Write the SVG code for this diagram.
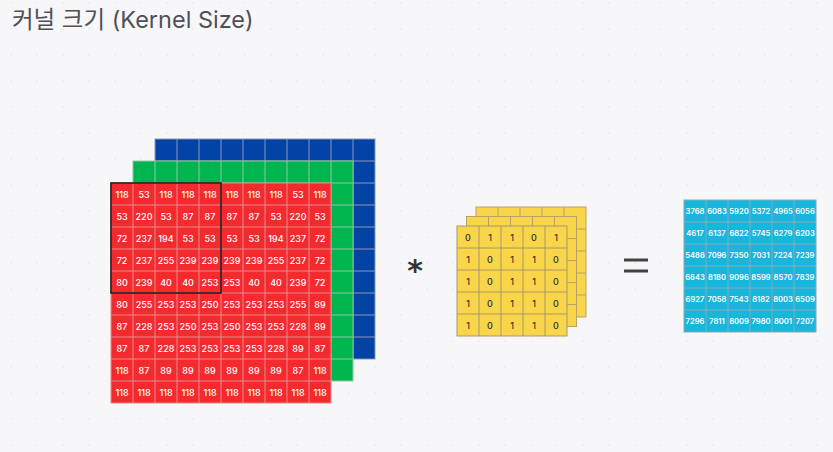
<svg xmlns="http://www.w3.org/2000/svg" width="833" height="452" viewBox="0 0 833 452">
<style>
.rt{font-family:Inter,"Liberation Sans",sans-serif;font-size:9px;fill:#fff;text-anchor:middle;font-weight:500}
.kt{font-family:Inter,"Liberation Sans",sans-serif;font-size:9px;fill:#333;text-anchor:middle;font-weight:500}
.ot{font-family:Inter,"Liberation Sans",sans-serif;font-size:7.6px;fill:#fff;text-anchor:middle;font-weight:600}
.gl{fill:none;stroke-width:1}
</style>
<defs>
<pattern id="dots" x="0" y="0" width="26" height="26" patternUnits="userSpaceOnUse">
<circle cx="11" cy="3" r="1" fill="#ebebef"/>
</pattern>
<path id="g10" d="M22 0v220m22 -220v220m22 -220v220m22 -220v220m22 -220v220m22 -220v220m22 -220v220m22 -220v220m22 -220v220M0 22h220m-220 22h220m-220 22h220m-220 22h220m-220 22h220m-220 22h220m-220 22h220m-220 22h220m-220 22h220"/>
<path id="g5" d="M22 0v110m22 -110v110m22 -110v110m22 -110v110M0 22h110m-110 22h110m-110 22h110m-110 22h110"/>
<path id="g6" d="M22 0v132m22 -132v132m22 -132v132m22 -132v132m22 -132v132M0 22h132m-132 22h132m-132 22h132m-132 22h132m-132 22h132"/>
</defs>
<rect width="833" height="452" fill="#f7f7f9"/>
<rect width="833" height="452" fill="url(#dots)"/>

<g id="title">
<text x="12" y="28" font-family="Inter,'Noto Sans CJK KR',sans-serif" font-size="23.5" font-weight="400" fill="#505055">커널 크기 (Kernel Size)</text>
</g>

<g id="blue-channel" transform="translate(155,139)">
<rect width="220" height="220" fill="#0443a6" stroke="#8a97b3"/>
<use href="#g10" class="gl" stroke="#8a97b3"/>
</g>
<g id="green-channel" transform="translate(133,161)">
<rect width="220" height="220" fill="#00b450" stroke="#8fc9a2"/>
<use href="#g10" class="gl" stroke="#8fc9a2"/>
</g>
<g id="red-channel">
<rect x="111" y="183" width="220" height="220" fill="#f52a2f" stroke="#e38a8c"/>
<use href="#g10" x="111" y="183" class="gl" stroke="#e38a8c"/>
<g class="rt">
<text x="122" y="197.5">118</text><text x="144" y="197.5">53</text><text x="166" y="197.5">118</text><text x="188" y="197.5">118</text><text x="210" y="197.5">118</text><text x="232" y="197.5">118</text><text x="254" y="197.5">118</text><text x="276" y="197.5">118</text><text x="298" y="197.5">53</text><text x="320" y="197.5">118</text>
<text x="122" y="219.5">53</text><text x="144" y="219.5">220</text><text x="166" y="219.5">53</text><text x="188" y="219.5">87</text><text x="210" y="219.5">87</text><text x="232" y="219.5">87</text><text x="254" y="219.5">87</text><text x="276" y="219.5">53</text><text x="298" y="219.5">220</text><text x="320" y="219.5">53</text>
<text x="122" y="241.5">72</text><text x="144" y="241.5">237</text><text x="166" y="241.5">194</text><text x="188" y="241.5">53</text><text x="210" y="241.5">53</text><text x="232" y="241.5">53</text><text x="254" y="241.5">53</text><text x="276" y="241.5">194</text><text x="298" y="241.5">237</text><text x="320" y="241.5">72</text>
<text x="122" y="263.5">72</text><text x="144" y="263.5">237</text><text x="166" y="263.5">255</text><text x="188" y="263.5">239</text><text x="210" y="263.5">239</text><text x="232" y="263.5">239</text><text x="254" y="263.5">239</text><text x="276" y="263.5">255</text><text x="298" y="263.5">237</text><text x="320" y="263.5">72</text>
<text x="122" y="285.5">80</text><text x="144" y="285.5">239</text><text x="166" y="285.5">40</text><text x="188" y="285.5">40</text><text x="210" y="285.5">253</text><text x="232" y="285.5">253</text><text x="254" y="285.5">40</text><text x="276" y="285.5">40</text><text x="298" y="285.5">239</text><text x="320" y="285.5">72</text>
<text x="122" y="307.5">80</text><text x="144" y="307.5">255</text><text x="166" y="307.5">253</text><text x="188" y="307.5">253</text><text x="210" y="307.5">250</text><text x="232" y="307.5">253</text><text x="254" y="307.5">253</text><text x="276" y="307.5">253</text><text x="298" y="307.5">255</text><text x="320" y="307.5">89</text>
<text x="122" y="329.5">87</text><text x="144" y="329.5">228</text><text x="166" y="329.5">253</text><text x="188" y="329.5">250</text><text x="210" y="329.5">253</text><text x="232" y="329.5">250</text><text x="254" y="329.5">253</text><text x="276" y="329.5">253</text><text x="298" y="329.5">228</text><text x="320" y="329.5">89</text>
<text x="122" y="351.5">87</text><text x="144" y="351.5">87</text><text x="166" y="351.5">228</text><text x="188" y="351.5">253</text><text x="210" y="351.5">253</text><text x="232" y="351.5">253</text><text x="254" y="351.5">253</text><text x="276" y="351.5">228</text><text x="298" y="351.5">89</text><text x="320" y="351.5">87</text>
<text x="122" y="373.5">118</text><text x="144" y="373.5">87</text><text x="166" y="373.5">89</text><text x="188" y="373.5">89</text><text x="210" y="373.5">89</text><text x="232" y="373.5">89</text><text x="254" y="373.5">89</text><text x="276" y="373.5">89</text><text x="298" y="373.5">87</text><text x="320" y="373.5">118</text>
<text x="122" y="395.5">118</text><text x="144" y="395.5">118</text><text x="166" y="395.5">118</text><text x="188" y="395.5">118</text><text x="210" y="395.5">118</text><text x="232" y="395.5">118</text><text x="254" y="395.5">118</text><text x="276" y="395.5">118</text><text x="298" y="395.5">118</text><text x="320" y="395.5">118</text>
</g>
<rect x="111" y="183" width="110" height="110" fill="none" stroke="#1e1e1e" stroke-width="1.6"/>
</g>

<g id="multiply">
<text x="415" y="281" font-family="'DejaVu Sans',sans-serif" font-size="30" font-weight="bold" fill="#333" text-anchor="middle">*</text>
</g>

<g id="kernel">
<g transform="translate(476,207)"><rect width="110" height="110" fill="#f9d54a" stroke="#b7a36a"/><use href="#g5" class="gl" stroke="#b7a36a"/></g>
<g transform="translate(466.5,216.5)"><rect width="110" height="110" fill="#f9d54a" stroke="#b7a36a"/><use href="#g5" class="gl" stroke="#b7a36a"/></g>
<g transform="translate(457,226)"><rect width="110" height="110" fill="#f9d54a" stroke="#a8966a"/><use href="#g5" class="gl" stroke="#a8966a"/></g>
<g class="kt">
<text x="468" y="240.5">0</text><text x="490" y="240.5">1</text><text x="512" y="240.5">1</text><text x="534" y="240.5">0</text><text x="556" y="240.5">1</text>
<text x="468" y="262.5">1</text><text x="490" y="262.5">0</text><text x="512" y="262.5">1</text><text x="534" y="262.5">1</text><text x="556" y="262.5">0</text>
<text x="468" y="284.5">1</text><text x="490" y="284.5">0</text><text x="512" y="284.5">1</text><text x="534" y="284.5">1</text><text x="556" y="284.5">0</text>
<text x="468" y="306.5">1</text><text x="490" y="306.5">0</text><text x="512" y="306.5">1</text><text x="534" y="306.5">1</text><text x="556" y="306.5">0</text>
<text x="468" y="328.5">1</text><text x="490" y="328.5">0</text><text x="512" y="328.5">1</text><text x="534" y="328.5">1</text><text x="556" y="328.5">0</text>
</g>
</g>

<g id="equals">
<rect x="624" y="258.5" width="24" height="3" fill="#444"/>
<rect x="624" y="269.5" width="24" height="3" fill="#444"/>
</g>

<g id="output">
<rect x="684" y="200" width="132" height="132" fill="#18b6dd" stroke="#86a9b6"/>
<use href="#g6" x="684" y="200" class="gl" stroke="#86a9b6"/>
<g class="ot">
<text x="695" y="213.8">3768</text><text x="717" y="213.8">6083</text><text x="739" y="213.8">5920</text><text x="761" y="213.8">5372</text><text x="783" y="213.8">4965</text><text x="805" y="213.8">6056</text>
<text x="695" y="235.8">4617</text><text x="717" y="235.8">6137</text><text x="739" y="235.8">6822</text><text x="761" y="235.8">5745</text><text x="783" y="235.8">6279</text><text x="805" y="235.8">6203</text>
<text x="695" y="257.8">5486</text><text x="717" y="257.8">7096</text><text x="739" y="257.8">7350</text><text x="761" y="257.8">7031</text><text x="783" y="257.8">7224</text><text x="805" y="257.8">7239</text>
<text x="695" y="279.8">6643</text><text x="717" y="279.8">8180</text><text x="739" y="279.8">9096</text><text x="761" y="279.8">8599</text><text x="783" y="279.8">8570</text><text x="805" y="279.8">7839</text>
<text x="695" y="301.8">6927</text><text x="717" y="301.8">7058</text><text x="739" y="301.8">7543</text><text x="761" y="301.8">8182</text><text x="783" y="301.8">8003</text><text x="805" y="301.8">6509</text>
<text x="695" y="323.8">7296</text><text x="717" y="323.8">7811</text><text x="739" y="323.8">8009</text><text x="761" y="323.8">7980</text><text x="783" y="323.8">8001</text><text x="805" y="323.8">7207</text>
</g>
</g>
</svg>
